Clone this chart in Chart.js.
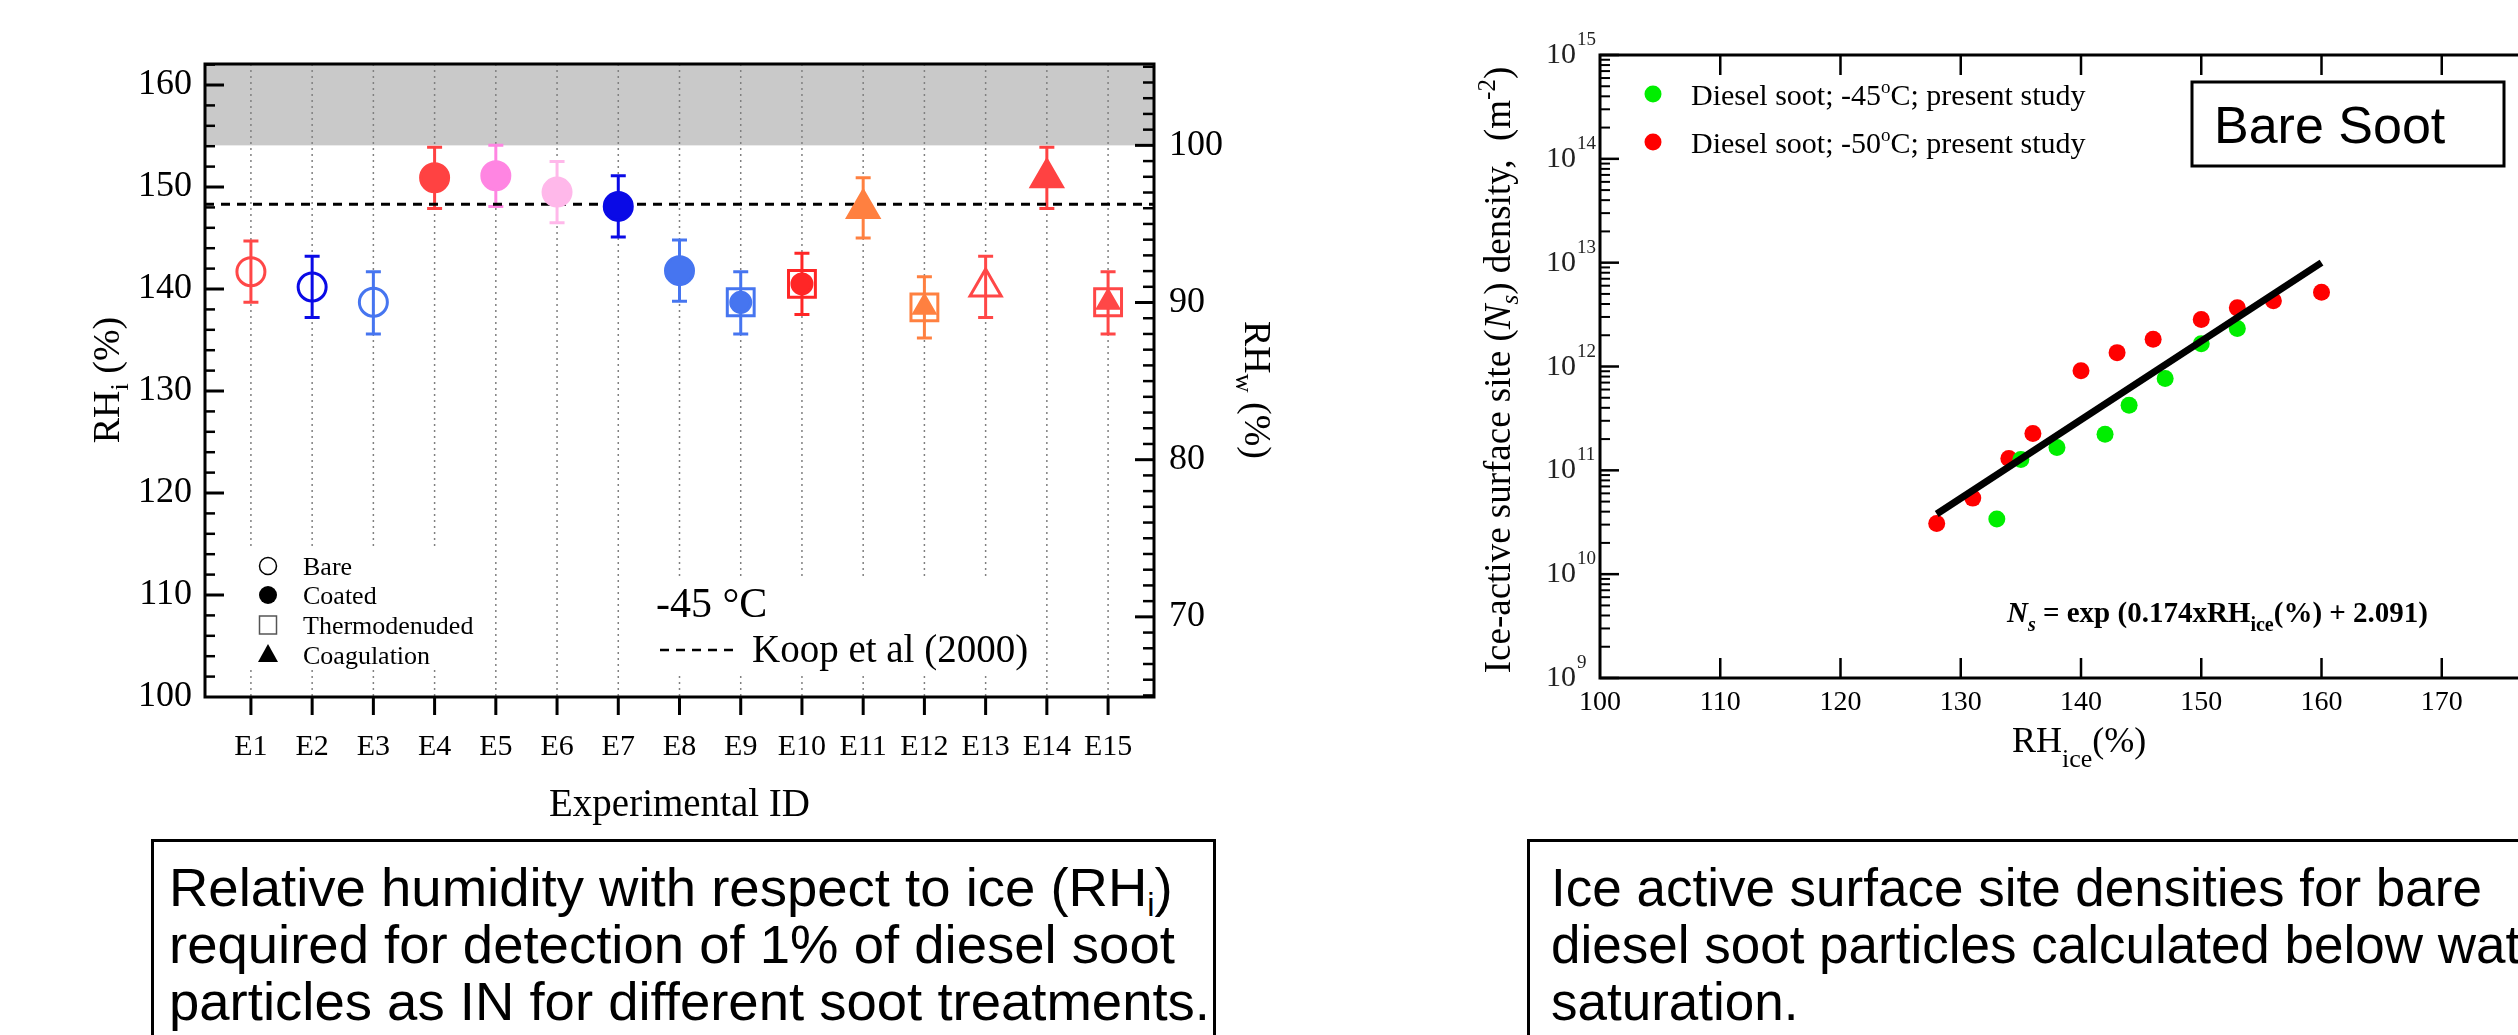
<!DOCTYPE html>
<html>
<head>
<meta charset="utf-8">
<script src="https://cdn.jsdelivr.net/npm/chart.js@4.4.1/dist/chart.umd.min.js"></script>
<style>
  html, body { margin: 0; padding: 0; background: #fff; }
  body { width: 2518px; height: 1035px; overflow: hidden; position: relative; }
  canvas { position: absolute; }
  #rhChart { left: 0; top: 0; }
  #nsChart { left: 1380px; top: 0; }
  .caption {
    position: absolute; top: 839px; height: 260px; box-sizing: border-box;
    border: 3px solid #000; background: #fff; color: #000; padding-top: 17px;
    font-family: 'Liberation Sans', Arial, sans-serif; font-size: 54.5px; line-height: 57px;
    white-space: nowrap; overflow: hidden;
  }
  .caption sub { font-size: 60%; vertical-align: -0.3em; line-height: 0; }
</style>
</head>
<body>
<canvas id="rhChart" width="1300" height="840"></canvas>
<canvas id="nsChart" width="1250" height="840"></canvas>
<div class="caption" style="left:151px; width:1065px; padding-left:15px;">Relative humidity with respect to ice (RH<sub>i</sub>)<br>required for detection of 1% of diesel soot<br>particles as IN for different soot treatments.</div>
<div class="caption" style="left:1527px; width:1100px; padding-left:21px; font-size:53px;">Ice active surface site densities for bare<br>diesel soot particles calculated below water<br>saturation.</div>
<script>
// ---- left panel: RHi needed to activate 1% of the soot as IN ----
const experiments = ['E1', 'E2', 'E3', 'E4', 'E5', 'E6', 'E7', 'E8', 'E9', 'E10', 'E11', 'E12', 'E13', 'E14', 'E15'];
const rhiOnset = [141.7, 140.2, 138.7, 150.9, 151.1, 149.5, 148.1, 141.8, 138.7, 140.5, 147.9, 138.2, 140.2, 150.9, 138.7];
const rhiUpper = [144.7, 143.2, 141.7, 153.9, 154.1, 152.5, 151.1, 144.8, 141.7, 143.5, 150.9, 141.2, 143.2, 153.9, 141.7];
const rhiLower = [138.7, 137.2, 135.6, 147.9, 148.1, 146.5, 145.1, 138.8, 135.6, 137.5, 145.0, 135.2, 137.2, 147.9, 135.6];
const thermodenuded = ['E9', 'E10', 'E12', 'E15'];
const rhiTicks = [100, 110, 120, 130, 140, 150, 160];
const rhwTicks = [70, 80, 90, 100];
const koopRHi = 148.3;
const iceToWater = 0.649; // RHw / RHi at -45 C
const legendItems = ['Bare', 'Coated', 'Thermodenuded', 'Coagulation'];

// ---- right panel: ice-active surface site density vs RHice ----
const soot45RH = [133, 135, 138, 142, 144, 147, 150, 153];
const soot45Ns = [3.4e10, 1.27e11, 1.66e11, 2.23e11, 4.24e11, 7.66e11, 1.66e12, 2.32e12];
const soot50RH = [128, 131, 134, 136, 140, 143, 146, 150, 153, 156, 160];
const soot50Ns = [3.07e10, 5.4e10, 1.3e11, 2.26e11, 9.1e11, 1.36e12, 1.83e12, 2.84e12, 3.67e12, 4.29e12, 5.2e12];
const fitRH = [128, 160];
const fitNs = [3.8e10, 1.0e13];
const rhIceTicks = [100, 110, 120, 130, 140, 150, 160, 170, 180];
const nsDecades = [9, 10, 11, 12, 13, 14, 15];

// marker styles per experiment
const markerColor = ['#ff4747', '#0a0ae6', '#4675f0', '#ff4242', '#ff85e2', '#ffb8ea', '#0a0ae6', '#4675f0',
                     '#4675f0', '#ff2626', '#ff8040', '#ff8040', '#ff4747', '#ff4242', '#ff4747'];
const markerShape = ['circle', 'circle', 'circle', 'circle', 'circle', 'circle', 'circle', 'circle',
                     'circle', 'circle', 'triangle', 'triangle', 'triangle', 'triangle', 'triangle'];
const markerSize = [14, 14, 14, 14, 14, 14, 14, 14, 10, 10, 18, 12, 18, 18, 12];
const markerFilled = [false, false, false, true, true, true, true, true, true, true, true, true, false, true, true];

const SERIF = "'Liberation Serif', 'Times New Roman', serif";
const SANS = "'Liberation Sans', Arial, sans-serif";
Chart.defaults.color = '#000';

const xMin = 0.25, xMax = 15.75;
const yMin = 100, yMax = 162.06;

function seg(ctx, x1, y1, x2, y2) {
    ctx.beginPath();
    ctx.moveTo(x1, y1);
    ctx.lineTo(x2, y2);
    ctx.stroke();
}

// draw text made of pieces (subscripts, italics...) on one baseline
function richText(ctx, parts, x, y, align) {
    let w = 0;
    parts.forEach(p => { ctx.font = p.font; w += ctx.measureText(p.text).width; });
    let cx = align === 'center' ? x - w / 2 : (align === 'right' ? x - w : x);
    ctx.textAlign = 'left';
    ctx.textBaseline = 'alphabetic';
    parts.forEach(p => {
        ctx.font = p.font;
        ctx.fillText(p.text, cx, y + (p.dy || 0));
        cx += ctx.measureText(p.text).width;
    });
}

const rhDecor = {
    id: 'rhDecor',
    beforeDatasetsDraw(chart) {
        const { ctx, chartArea: a, scales: { x, y } } = chart;
        ctx.save();
        // grey band: above water saturation
        const yBand = y.getPixelForValue(100 / iceToWater);
        ctx.fillStyle = '#c9c9c9';
        ctx.fillRect(a.left, a.top, a.right - a.left, yBand - a.top);

        // dotted vertical guides
        ctx.strokeStyle = '#808080';
        ctx.lineWidth = 1.5;
        ctx.setLineDash([2, 4]);
        experiments.forEach((e, i) => {
            const px = x.getPixelForValue(i + 1);
            seg(ctx, px, a.top, px, a.bottom);
        });
        ctx.setLineDash([]);

        // white areas behind the legend and the note
        ctx.fillStyle = '#fff';
        ctx.fillRect(215, 550, 255, 118);
        ctx.fillRect(640, 577, 400, 96);

        // error bars
        ctx.lineWidth = 3;
        experiments.forEach((e, i) => {
            const px = x.getPixelForValue(i + 1);
            const pt = y.getPixelForValue(rhiUpper[i]);
            const pb = y.getPixelForValue(rhiLower[i]);
            ctx.strokeStyle = markerColor[i];
            ctx.beginPath();
            ctx.moveTo(px, pt); ctx.lineTo(px, pb);
            ctx.moveTo(px - 7.5, pt); ctx.lineTo(px + 7.5, pt);
            ctx.moveTo(px - 7.5, pb); ctx.lineTo(px + 7.5, pb);
            ctx.stroke();
        });
        ctx.restore();
    },
    afterDraw(chart) {
        const { ctx, chartArea: a, scales: { x, y, y2 } } = chart;
        ctx.save();
        ctx.strokeStyle = '#000';
        ctx.fillStyle = '#000';

        // frame
        ctx.lineWidth = 3;
        ctx.strokeRect(a.left, a.top, a.right - a.left, a.bottom - a.top);

        // left ticks (inward)
        for (let v = yMin + 2; v < yMax; v += 2) {
            const py = y.getPixelForValue(v);
            const major = rhiTicks.includes(v);
            ctx.lineWidth = major ? 3 : 2.5;
            seg(ctx, a.left, py, a.left + (major ? 19 : 10), py);
        }
        // right ticks (inward)
        for (let v = Math.ceil(y2.min); v < y2.max; v++) {
            const py = y2.getPixelForValue(v);
            const major = rhwTicks.includes(v);
            ctx.lineWidth = major ? 3 : 2.5;
            seg(ctx, a.right, py, a.right - (major ? 19 : 11), py);
        }
        // bottom ticks (outward)
        ctx.lineWidth = 3;
        experiments.forEach((e, i) => {
            const px = x.getPixelForValue(i + 1);
            seg(ctx, px, a.bottom, px, a.bottom + 18);
        });

        // axis titles
        ctx.save();
        ctx.translate(107, 380);
        ctx.rotate(-Math.PI / 2);
        richText(ctx, [
            { text: 'RH', font: `38px ${SERIF}` },
            { text: 'i', font: `26px ${SERIF}`, dy: 9 },
            { text: ' (%)', font: `38px ${SERIF}` }
        ], 0, 12, 'center');
        ctx.restore();

        ctx.save();
        ctx.translate(1257, 390);
        ctx.rotate(Math.PI / 2);
        richText(ctx, [
            { text: 'RH', font: `38px ${SERIF}` },
            { text: 'w', font: `26px ${SERIF}`, dy: 9 },
            { text: ' (%)', font: `38px ${SERIF}` }
        ], 0, 12, 'center');
        ctx.restore();

        ctx.font = `39px ${SERIF}`;
        ctx.textAlign = 'center';
        ctx.textBaseline = 'alphabetic';
        ctx.fillText('Experimental ID', (a.left + a.right) / 2, 816);

        // symbol legend
        const rowY = [566, 595, 625, 655];
        const sx = 268;
        ctx.lineWidth = 1.5;
        ctx.beginPath(); ctx.arc(sx, rowY[0], 8.5, 0, Math.PI * 2); ctx.stroke();
        ctx.beginPath(); ctx.arc(sx, rowY[1], 9, 0, Math.PI * 2); ctx.fill();
        ctx.strokeStyle = '#555';
        ctx.strokeRect(sx - 8.5, rowY[2] - 9, 17, 18);
        ctx.beginPath();
        ctx.moveTo(sx, rowY[3] - 11); ctx.lineTo(sx + 10, rowY[3] + 7); ctx.lineTo(sx - 10, rowY[3] + 7);
        ctx.closePath(); ctx.fill();
        ctx.font = `26px ${SERIF}`;
        ctx.textAlign = 'left';
        legendItems.forEach((t, i) => ctx.fillText(t, 303, rowY[i] + 9));

        // note
        ctx.font = `42px ${SERIF}`;
        ctx.fillText('-45 \u00b0C', 656, 617);
        ctx.strokeStyle = '#000';
        ctx.lineWidth = 2.5;
        ctx.setLineDash([9, 7]);
        seg(ctx, 660, 650, 736, 650);
        ctx.setLineDash([]);
        ctx.font = `39px ${SERIF}`;
        ctx.fillText('Koop et al (2000)', 752, 662);
        ctx.restore();
    }
};

new Chart(document.getElementById('rhChart'), {
    type: 'scatter',
    data: {
        datasets: [{
            type: 'line',
            label: 'Koop et al (2000)',
            data: [{ x: xMin, y: koopRHi }, { x: xMax, y: koopRHi }],
            borderColor: '#000',
            borderWidth: 3,
            borderDash: [9, 7],
            pointRadius: 0,
            order: 3
        }, {
            label: 'onset',
            data: experiments.map((e, i) => ({ x: i + 1, y: rhiOnset[i] })),
            pointStyle: markerShape,
            pointRadius: markerSize,
            pointBorderColor: markerColor,
            pointBackgroundColor: markerColor.map((c, i) => markerFilled[i] ? c : 'rgba(0,0,0,0)'),
            pointBorderWidth: 3,
            order: 2
        }, {
            label: 'thermodenuded',
            data: thermodenuded.map(e => {
                const i = experiments.indexOf(e);
                return { x: i + 1, y: rhiOnset[i] };
            }),
            pointStyle: 'rect',
            pointRadius: 19,
            pointBorderColor: thermodenuded.map(e => markerColor[experiments.indexOf(e)]),
            pointBackgroundColor: 'rgba(0,0,0,0)',
            pointBorderWidth: 3,
            order: 1
        }]
    },
    options: {
        responsive: false,
        animation: false,
        events: [],
        layout: { padding: { top: 64, left: 0, right: 0, bottom: 0 } },
        plugins: { legend: { display: false }, tooltip: { enabled: false } },
        scales: {
            x: {
                type: 'linear',
                min: xMin,
                max: xMax,
                grid: { display: false, drawTicks: false },
                border: { display: false },
                afterBuildTicks: s => { s.ticks = experiments.map((e, i) => ({ value: i + 1 })); },
                afterFit: s => { s.height = 143; },
                ticks: {
                    callback: v => experiments[v - 1],
                    font: { family: SERIF, size: 30 },
                    padding: 32,
                    autoSkip: false,
                    maxRotation: 0
                }
            },
            y: {
                min: yMin,
                max: yMax,
                grid: { display: false, drawTicks: false },
                border: { display: false },
                afterBuildTicks: s => { s.ticks = rhiTicks.map(v => ({ value: v })); },
                afterFit: s => { s.width = 205; },
                ticks: { font: { family: SERIF, size: 36 }, padding: 13 }
            },
            y2: {
                position: 'right',
                min: yMin * iceToWater,
                max: yMax * iceToWater,
                grid: { display: false, drawTicks: false },
                border: { display: false },
                afterBuildTicks: s => { s.ticks = rhwTicks.map(v => ({ value: v })); },
                afterFit: s => { s.width = 146; },
                ticks: { font: { family: SERIF, size: 36 }, padding: 15 }
            }
        }
    },
    plugins: [rhDecor]
});

const nsDecor = {
    id: 'nsDecor',
    afterDraw(chart) {
        const { ctx, chartArea: a, scales: { x, y } } = chart;
        ctx.save();
        ctx.strokeStyle = '#000';
        ctx.fillStyle = '#000';

        ctx.lineWidth = 3;
        ctx.strokeRect(a.left, a.top, a.right - a.left, a.bottom - a.top);

        // x ticks on bottom and top, inward
        ctx.lineWidth = 2.5;
        rhIceTicks.forEach(v => {
            if (v <= x.min || v >= x.max) return;
            const px = x.getPixelForValue(v);
            seg(ctx, px, a.bottom, px, a.bottom - 20);
            seg(ctx, px, a.top, px, a.top + 20);
        });

        // log y ticks and labels
        nsDecades.forEach((e, k) => {
            const py = y.getPixelForValue(Math.pow(10, e));
            ctx.lineWidth = 2.5;
            seg(ctx, a.left, py, a.left + 19, py);
            if (k < nsDecades.length - 1) {
                ctx.lineWidth = 2;
                for (let m = 2; m <= 9; m++) {
                    const pm = y.getPixelForValue(m * Math.pow(10, e));
                    seg(ctx, a.left, pm, a.left + 10, pm);
                }
            }
            ctx.fillStyle = '#222';
            ctx.font = `30px ${SERIF}`;
            ctx.textAlign = 'right';
            ctx.textBaseline = 'alphabetic';
            ctx.fillText('10', a.left - 24, py + 8);
            ctx.font = `19px ${SERIF}`;
            ctx.textAlign = 'left';
            ctx.fillText(String(e), a.left - 23, py - 10);
            ctx.fillStyle = '#000';
        });

        // y title
        ctx.save();
        ctx.translate(118, 370);
        ctx.rotate(-Math.PI / 2);
        richText(ctx, [
            { text: 'Ice-active surface site (', font: `37px ${SERIF}` },
            { text: 'N', font: `italic 37px ${SERIF}` },
            { text: 's', font: `italic 25px ${SERIF}`, dy: 8 },
            { text: ') density,  (m', font: `37px ${SERIF}` },
            { text: '-2', font: `25px ${SERIF}`, dy: -15 },
            { text: ')', font: `37px ${SERIF}` }
        ], 0, 12, 'center');
        ctx.restore();

        // x title
        richText(ctx, [
            { text: 'RH', font: `36px ${SERIF}` },
            { text: 'ice', font: `26px ${SERIF}`, dy: 15 },
            { text: '(%)', font: `36px ${SERIF}` }
        ], 632, 752, 'left');

        // fitted relation
        richText(ctx, [
            { text: 'N', font: `italic bold 29px ${SERIF}` },
            { text: 's', font: `italic bold 20px ${SERIF}`, dy: 9 },
            { text: ' = exp (0.174xRH', font: `bold 29px ${SERIF}` },
            { text: 'ice', font: `bold 20px ${SERIF}`, dy: 9 },
            { text: '(%) + 2.091)', font: `bold 29px ${SERIF}` }
        ], 627, 622, 'left');

        // legend
        const lx = 273;
        [['#00ee00', '-45', 94], ['#ff0000', '-50', 142]].forEach(([c, t, ly]) => {
            ctx.fillStyle = c;
            ctx.beginPath(); ctx.arc(lx, ly, 8.5, 0, Math.PI * 2); ctx.fill();
            ctx.fillStyle = '#000';
            richText(ctx, [
                { text: 'Diesel soot; ' + t, font: `30px ${SERIF}` },
                { text: 'o', font: `19px ${SERIF}`, dy: -12 },
                { text: 'C; present study', font: `30px ${SERIF}` }
            ], 311, ly + 11, 'left');
        });

        // label box
        ctx.lineWidth = 3;
        ctx.strokeRect(812, 82, 312, 84);
        ctx.font = `52px ${SANS}`;
        ctx.textAlign = 'left';
        ctx.fillText('Bare Soot', 834, 143);
        ctx.restore();
    }
};

new Chart(document.getElementById('nsChart'), {
    type: 'scatter',
    data: {
        datasets: [{
            type: 'line',
            label: 'fit',
            data: fitRH.map((v, i) => ({ x: v, y: fitNs[i] })),
            borderColor: '#000',
            borderWidth: 7,
            pointRadius: 0,
            order: 0
        }, {
            label: 'Diesel soot; -45oC; present study',
            data: soot45RH.map((v, i) => ({ x: v, y: soot45Ns[i] })),
            pointRadius: 8.5,
            pointBackgroundColor: '#00ee00',
            pointBorderWidth: 0,
            order: 1
        }, {
            label: 'Diesel soot; -50oC; present study',
            data: soot50RH.map((v, i) => ({ x: v, y: soot50Ns[i] })),
            pointRadius: 8.5,
            pointBackgroundColor: '#ff0000',
            pointBorderWidth: 0,
            order: 1
        }]
    },
    options: {
        responsive: false,
        animation: false,
        events: [],
        layout: { padding: { top: 55, left: 0, right: 68, bottom: 0 } },
        plugins: { legend: { display: false }, tooltip: { enabled: false } },
        scales: {
            x: {
                type: 'linear',
                min: 100,
                max: 180,
                grid: { display: false, drawTicks: false },
                border: { display: false },
                afterBuildTicks: s => { s.ticks = rhIceTicks.map(v => ({ value: v })); },
                afterFit: s => { s.height = 162; },
                ticks: { font: { family: SERIF, size: 28 }, padding: 8, autoSkip: false, maxRotation: 0 }
            },
            y: {
                type: 'logarithmic',
                min: 1e9,
                max: 1e15,
                grid: { display: false, drawTicks: false },
                border: { display: false },
                afterBuildTicks: s => { s.ticks = nsDecades.map(e => ({ value: Math.pow(10, e) })); },
                afterFit: s => { s.width = 220; },
                ticks: { display: false }
            }
        }
    },
    plugins: [nsDecor]
});
</script>
</body>
</html>
